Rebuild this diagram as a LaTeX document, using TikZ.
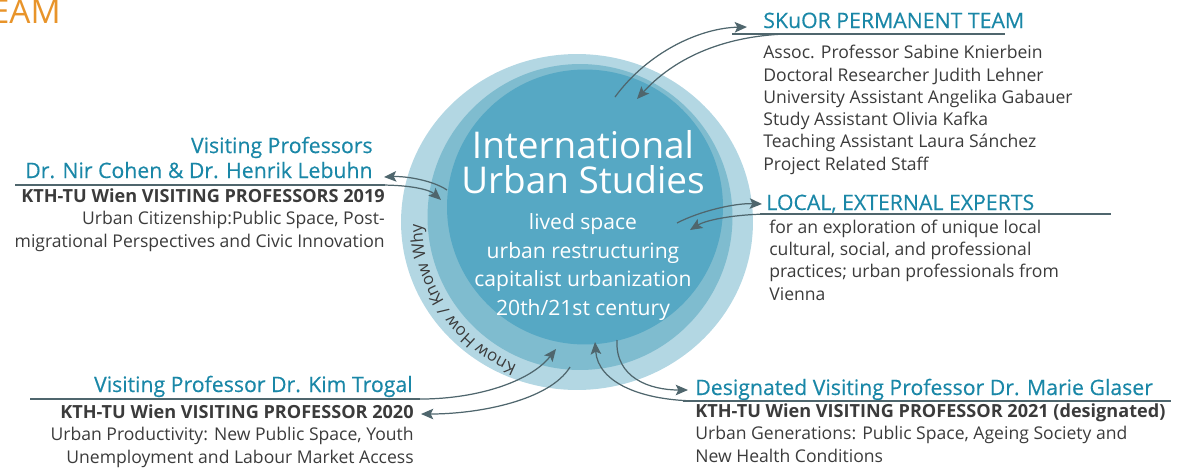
\documentclass[tikz,border=0pt]{standalone}
\usepackage{fontspec}
\setmainfont{Open Sans}
\newfontfamily\headfont[FakeBold=0.35]{Open Sans}
\usepackage{tikz}
\usetikzlibrary{positioning,shapes.geometric,arrows.meta,decorations.text}
\definecolor{iusteal}{HTML}{1A87A7}
\definecolor{iusink}{HTML}{3B3B3B}
\definecolor{iusslate}{HTML}{4F666D}
\definecolor{ringouter}{HTML}{B3D7E3}
\definecolor{ringmid}{HTML}{7FBCCF}
\definecolor{ringcore}{HTML}{56A8C4}
\definecolor{iusorange}{HTML}{E8942A}

\begin{document}
\begin{tikzpicture}[x=0.02cm,y=-0.02cm,
  ring/.style={ellipse,inner sep=0pt},
  heading/.style={text=iusteal,font=\headfont\fontsize{12.1}{14.2}\selectfont,inner sep=0pt},
  body/.style={text=iusink,font=\fontsize{10}{12.65}\selectfont,inner sep=0pt},
  rule/.style={draw=iusslate,line width=0.8pt},
  link/.style={draw=iusslate,line width=0.7pt,-{Stealth[length=7pt,width=6pt,inset=1.5pt]}}]
  \useasboundingbox (0,0) rectangle (1177,468);
  \node[text=iusorange,font=\fontsize{19}{22}\selectfont,anchor=base east,inner sep=0pt] (eam) at (61,23) {EAM};
  % rings
  \node[ring,fill=ringouter,minimum width=7.04cm,minimum height=6.72cm] (outer) at (577,222) {};
  \node[ring,fill=ringmid,minimum width=6.1cm,minimum height=6.12cm] (middle) at (580,217) {};
  \node[ring,fill=ringcore,minimum width=5.52cm,minimum height=5.5cm] (core) at (585,207) {};
  \node[text=white,font=\fontsize{21}{19.9}\selectfont,align=center,anchor=base,inner sep=0pt] (title) at (583,193) {International\\Urban Studies};
  \node[text=white,font=\fontsize{12}{16.2}\selectfont,align=center,anchor=base,inner sep=0pt] (topics) at (583,315) {lived space\\urban restructuring\\capitalist urbanization\\20th/21st century};
  \coordinate (ringc) at (577,222);
  \path[decorate,decoration={text along path,text align=center,
    text={|\fontsize{9.5}{11}\selectfont\color{iusink}|Know How / Know Why}}]
    (ringc) ++(106:155) arc[start angle=106,end angle=186,radius=155];

  % permanent team
  \node[heading,anchor=base west] (teamhead) at (763,28) {SKuOR PERMANENT TEAM};
  \node[body,anchor=base west,align=left] (teamlist) at (763,170) {Assoc. Professor Sabine Knierbein\\Doctoral Researcher Judith Lehner\\University Assistant Angelika Gabauer\\Study Assistant Olivia Kafka\\Teaching Assistant Laura Sánchez\\Project Related Staff};
  \draw[rule] (732,34) -- (1005,34);

  % local experts
  \node[heading,anchor=base west] (localhead) at (766,210) {LOCAL, EXTERNAL EXPERTS};
  \node[body,anchor=base west,align=left] (locallist) at (769,300) {for an exploration of unique local\\cultural, social, and professional\\practices; urban professionals from\\Vienna};
  \draw[rule] (760,214) -- (1111,214);

  % visiting professors 2019
  \node[heading,anchor=base east,align=right] (cohenhead) at (373,178) {Visiting Professors\\Dr. Nir Cohen \& Dr. Henrik Lebuhn};
  \node[body,anchor=base east,align=right] (cohenbody) at (385,247) {{\fontsize{10.3}{12.65}\selectfont\bfseries KTH-TU Wien VISITING PROFESSORS 2019}\\Urban Citizenship:Public Space, Post-\\migrational Perspectives and Civic Innovation};
  \draw[rule] (15,185) -- (385,185);

  % visiting professor 2020
  \node[heading,anchor=base east] (trogalhead) at (413,392) {Visiting Professor Dr. Kim Trogal};
  \node[body,anchor=base east,align=right] (trogalbody) at (414,463) {{\fontsize{10.3}{12.65}\selectfont\bfseries KTH-TU Wien VISITING PROFESSOR 2020}\\Urban Productivity: New Public Space, Youth\\Unemployment and Labour Market Access};
  \draw[rule] (30,399) -- (420,399);

  % visiting professor 2021
  \node[heading,anchor=base west] (glaserhead) at (695,395) {Designated Visiting Professor Dr. Marie Glaser};
  \node[body,anchor=base west,align=left] (glaserbody) at (695,462) {{\fontsize{10.3}{12.65}\selectfont\bfseries KTH-TU Wien VISITING PROFESSOR 2021 (designated)}\\Urban Generations: Public Space, Ageing Society and\\New Health Conditions};
  \draw[rule] (683,401) -- (1171,401);

  % arrow ends
  \coordinate (teamout) at (615,97);
  \coordinate (teamin) at (747,27);
  \coordinate (teamfoot) at (785,34);
  \coordinate (coreteam) at (637,99);
  \coordinate (localout) at (677,223);
  \coordinate (localin) at (762,204);
  \coordinate (localfoot) at (772,214);
  \coordinate (corelocal) at (690,230);
  \coordinate (cohenfoot) at (380,185);
  \coordinate (corecohen) at (441,200);
  \coordinate (cohenout) at (447,190);
  \coordinate (cohenin) at (384,177);
  \coordinate (trogalfoot) at (415,399);
  \coordinate (coretrogal) at (556,349);
  \coordinate (trogalout) at (570,367);
  \coordinate (trogalin) at (421,414);
  \coordinate (glaserout) at (617,340);
  \coordinate (glaserin) at (688,390);
  \coordinate (glaserfoot) at (700,401);
  \coordinate (coreglaser) at (595,342);

  % arrows
  \draw[link] (teamout) .. controls (648,52) and (700,28) .. (teamin);
  \draw[link] (teamfoot) .. controls (712,37) and (668,65) .. (coreteam);
  \draw[link] (localout) .. controls (700,211) and (735,203) .. (localin);
  \draw[link] (localfoot) .. controls (735,214) and (706,220) .. (corelocal);
  \draw[link] (cohenfoot) .. controls (412,185) and (430,190) .. (corecohen);
  \draw[link] (cohenout) .. controls (432,180) and (405,176) .. (cohenin);
  \draw[link] (trogalfoot) .. controls (475,400) and (530,382) .. (coretrogal);
  \draw[link] (trogalout) .. controls (550,400) and (480,414) .. (trogalin);
  \draw[link] (glaserout) .. controls (615,378) and (650,390) .. (glaserin);
  \draw[link] (glaserfoot) .. controls (640,401) and (598,382) .. (coreglaser);
\end{tikzpicture}
\end{document}
